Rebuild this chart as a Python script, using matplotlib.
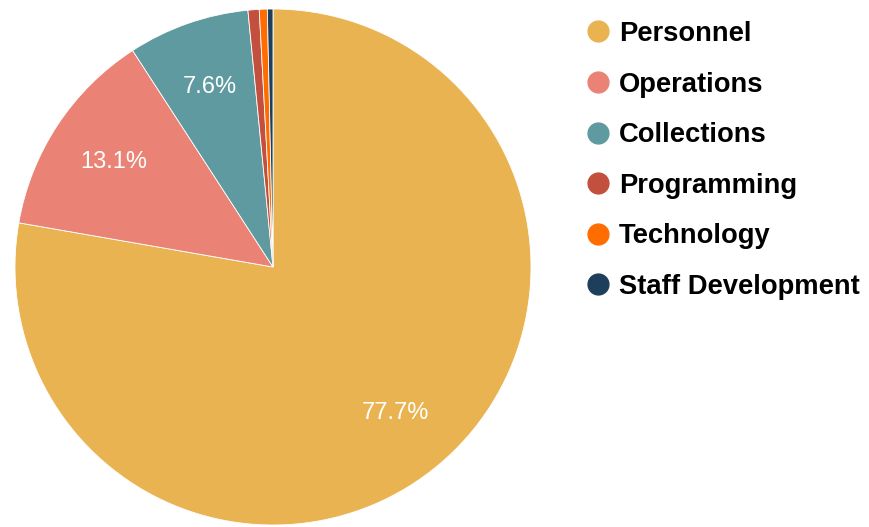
import matplotlib
matplotlib.use("Agg")
import matplotlib.pyplot as plt
from matplotlib.lines import Line2D

plt.rcParams["font.family"] = ["Liberation Sans", "DejaVu Sans"]

categories = ["Personnel", "Operations", "Collections", "Programming",
              "Technology", "Staff Development"]
shares = [77.7, 13.1, 7.6, 0.7, 0.5, 0.35]
colors = ["#E9B351", "#EA8275", "#5E9A9F", "#C3503E", "#FF6D01", "#1E3F5B"]


def _pct(p):
    return "%.1f%%" % p if p > 5 else ""


fig = plt.figure(figsize=(8.69, 5.27), dpi=100)
ax = fig.add_axes([15 / 869, 2 / 527, 516 / 869, 516 / 527])

wedges, texts, autotexts = ax.pie(
    shares, colors=colors, startangle=90, counterclock=False,
    autopct=_pct, pctdistance=0.74, radius=1,
    wedgeprops=dict(linewidth=0.6, edgecolor="white"),
    textprops=dict(color="white", fontsize=17))
ax.set_xlim(-1, 1)
ax.set_ylim(-1, 1)
ax.set_aspect("equal")

handles = [Line2D([], [], marker="o", ls="none", markersize=15,
                  markerfacecolor=c, markeredgecolor=c) for c in colors]
fig.legend(handles, categories, loc="upper left",
           bbox_to_anchor=(573 / 869, 1 - 10 / 527), frameon=False,
           prop=dict(size=19.7, weight="bold"), labelspacing=0.9,
           handletextpad=0.27, handlelength=1.0, borderaxespad=0)

fig.savefig("out.png", dpi=100)
